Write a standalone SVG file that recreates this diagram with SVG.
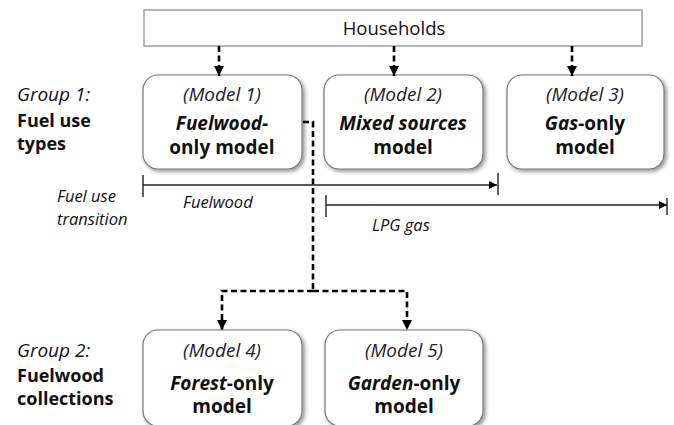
<svg xmlns="http://www.w3.org/2000/svg" width="674" height="425" viewBox="0 0 674 425">
<defs>
<filter id="sh" x="-10%" y="-10%" width="125%" height="125%">
<feGaussianBlur in="SourceAlpha" stdDeviation="2"/>
<feOffset dx="2" dy="2"/>
<feComponentTransfer><feFuncA type="linear" slope="0.45"/></feComponentTransfer>
<feMerge><feMergeNode/><feMergeNode in="SourceGraphic"/></feMerge>
</filter>
<marker id="ah" viewBox="0 0 10 10" refX="10" refY="5" markerWidth="10" markerHeight="10" markerUnits="userSpaceOnUse" orient="auto">
<path d="M0,0 L10,5 L0,10 Z" fill="#000"/>
</marker>
<marker id="th" viewBox="0 0 8 8" refX="8" refY="4" markerWidth="8" markerHeight="8" markerUnits="userSpaceOnUse" orient="auto">
<path d="M0,0 L8,4 L0,8 Z" fill="#000"/>
</marker>
</defs>
<style>
text{font-family:"Open Sans","Noto Sans",sans-serif;fill:#111}
.box{fill:#fff;stroke:#777;stroke-width:1.2}
.t{font-size:19px;text-anchor:middle}
.m{font-size:19px;font-style:italic;text-anchor:middle;fill:#222}
.b{font-weight:bold}
.bi{font-weight:bold;font-style:italic}
.g{font-size:18px}
.gi{font-size:19px;font-style:italic}
.sm{font-size:16.5px;font-style:italic}
.dash{fill:none;stroke:#000;stroke-width:2.6;stroke-dasharray:6 3.5}
.tl{fill:none;stroke:#222;stroke-width:1.4}
</style>
<g id="households">
<rect x="144" y="10" width="498" height="36" fill="#fff" stroke="#888" stroke-width="1.2"/>
<text x="394" y="35" font-size="18.5" text-anchor="middle">Households</text>
</g>
<g id="model1">
<rect class="box" x="143" y="75" width="159" height="94" rx="15" filter="url(#sh)"/>
<text class="m" x="222" y="101">(Model 1)</text>
<text class="t bi" x="222" y="130">Fuelwood-</text>
<text class="t b" x="222" y="154">only model</text>
</g>
<g id="model2">
<rect class="box" x="324" y="75" width="159" height="94" rx="15" filter="url(#sh)"/>
<text class="m" x="403" y="101">(Model 2)</text>
<text class="t bi" x="403" y="130">Mixed sources</text>
<text class="t b" x="403" y="154">model</text>
</g>
<g id="model3">
<rect class="box" x="507" y="75" width="157" height="94" rx="15" filter="url(#sh)"/>
<text class="m" x="585" y="101">(Model 3)</text>
<text class="t b" x="585" y="130"><tspan font-style="italic">Gas</tspan>-only</text>
<text class="t b" x="585" y="154">model</text>
</g>
<g id="model4">
<rect class="box" x="143" y="330" width="159" height="96" rx="15" filter="url(#sh)"/>
<text class="m" x="222" y="357">(Model 4)</text>
<text class="t b" x="222" y="390"><tspan font-style="italic">Forest</tspan>-only</text>
<text class="t b" x="222" y="413">model</text>
</g>
<g id="model5">
<rect class="box" x="325" y="330" width="158" height="96" rx="15" filter="url(#sh)"/>
<text class="m" x="404" y="357">(Model 5)</text>
<text class="t b" x="404" y="390"><tspan font-style="italic">Garden</tspan>-only</text>
<text class="t b" x="404" y="413">model</text>
</g>
<g id="labels">
<text class="gi" x="17" y="101">Group 1:</text>
<text class="g b" x="17" y="127">Fuel use</text>
<text class="g b" x="17" y="150">types</text>
<text class="gi" x="17" y="357">Group 2:</text>
<text class="g b" x="17" y="382">Fuelwood</text>
<text class="g b" x="17" y="405">collections</text>
<text class="sm" x="57" y="202">Fuel use</text>
<text class="sm" x="57" y="225">transition</text>
<text class="sm" x="183" y="208">Fuelwood</text>
<text class="sm" x="372" y="231">LPG gas</text>
</g>
<g id="connectors">
<path class="dash" d="M219,46 V76" marker-end="url(#ah)"/>
<path class="dash" d="M394,46 V76" marker-end="url(#ah)"/>
<path class="dash" d="M572,46 V76" marker-end="url(#ah)"/>
<path class="dash" d="M303,122 H313 V291"/>
<path class="dash" d="M313,291 H222 V330" marker-end="url(#ah)"/>
<path class="dash" d="M313,291 H407 V330" marker-end="url(#ah)"/>
<path class="tl" d="M143,185 H497" marker-end="url(#th)"/>
<path class="tl" d="M143,175 V197 M498,173 V195"/>
<path class="tl" d="M326,205 H667" marker-end="url(#th)"/>
<path class="tl" d="M326,195 V217 M667,198 V215"/>
</g>
</svg>
